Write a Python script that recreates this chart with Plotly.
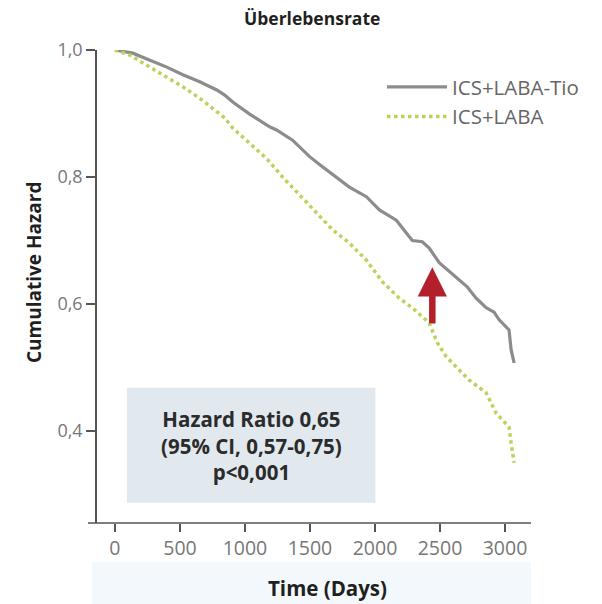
import plotly.graph_objects as go

# Data
days_tio = [0, 138, 269, 399, 522, 652, 783, 844, 906, 1036, 1190, 1243, 1366, 1497, 1596,
            1803, 1934, 2034, 2164, 2287, 2364, 2417, 2494, 2625, 2709, 2778, 2855, 2916,
            2955, 3031, 3047, 3070]
haz_tio = [1.0, 0.995, 0.984, 0.973, 0.961, 0.95, 0.937, 0.929, 0.918, 0.899, 0.879, 0.874,
           0.858, 0.832, 0.816, 0.784, 0.769, 0.748, 0.732, 0.70, 0.698, 0.688, 0.665, 0.641,
           0.627, 0.609, 0.594, 0.587, 0.575, 0.559, 0.528, 0.507]

days_laba = [0, 115, 269, 399, 522, 652, 783, 844, 906, 1036, 1167, 1289, 1420, 1550, 1673,
             1803, 1934, 2057, 2187, 2287, 2417, 2479, 2548, 2725, 2855, 2932, 3031, 3047, 3070]
haz_laba = [1.0, 0.992, 0.973, 0.957, 0.942, 0.924, 0.902, 0.893, 0.877, 0.853, 0.829, 0.80,
            0.772, 0.743, 0.717, 0.696, 0.669, 0.635, 0.609, 0.594, 0.57, 0.539, 0.517, 0.48,
            0.46, 0.428, 0.406, 0.381, 0.35]

x_ticks = [0, 500, 1000, 1500, 2000, 2500, 3000]
y_ticks = [0.4, 0.6, 0.8, 1.0]
y_tick_labels = ["0,4", "0,6", "0,8", "1,0"]

series_names = ["ICS+LABA-Tio", "ICS+LABA"]
box_lines = ["Hazard Ratio 0,65", "(95% CI, 0,57-0,75)", "p<0,001"]
box_x = [92, 2003]
box_y = [0.287, 0.468]
arrow_x = 2441
arrow_y = [0.567, 0.658]

fig = go.Figure()
fig.add_trace(go.Scatter(x=days_tio, y=haz_tio, mode="lines", name=series_names[0],
                         line=dict(color="#8c8c8c", width=3.2)))
fig.add_trace(go.Scatter(x=days_laba, y=haz_laba, mode="lines", name=series_names[1],
                         line=dict(color="#b8d45c", width=3.5, dash="dot")))

# stats box
fig.add_shape(type="rect", xref="x", yref="y", x0=box_x[0], x1=box_x[1], y0=box_y[0], y1=box_y[1],
              fillcolor="#e2e9ee", line=dict(width=0), layer="below")
fig.add_annotation(xref="x", yref="y", x=(box_x[0] + box_x[1]) / 2, y=(box_y[0] + box_y[1]) / 2,
                   xanchor="center", yanchor="middle",
                   text="<br>".join(box_lines), showarrow=False,
                   font=dict(family="Open Sans", size=20.5, color="#2b2b2b", weight="bold"),
                   align="center")

# bottom light band
fig.add_shape(type="rect", xref="paper", yref="paper", x0=-5 / 434, x1=1.0,
              y0=-(604 - 523) / 473, y1=-(562 - 523) / 473,
              fillcolor="#f3f8fc", line=dict(width=0), layer="below")

# x axis line extended past y axis
fig.add_shape(type="line", xref="paper", yref="paper", x0=-9 / 434, x1=1.0, y0=0, y1=0,
              line=dict(color="#555555", width=1.5))

# red arrow
fig.add_annotation(xref="x", yref="y", axref="x", ayref="y", x=arrow_x, y=arrow_y[1],
                   ax=arrow_x, ay=arrow_y[0], text="", showarrow=True, arrowhead=2,
                   arrowsize=0.9, arrowwidth=6.5, arrowcolor="#b3202c")

# titles
fig.add_annotation(xref="paper", yref="paper", x=(312 - 97) / 434, y=1 + (50 - 18) / 473,
                   xanchor="center", yanchor="middle",
                   text="Überlebensrate", showarrow=False,
                   font=dict(family="Open Sans", size=17.5, color="#1f1f1f", weight="bold"))
fig.add_annotation(xref="paper", yref="paper", x=(327 - 97) / 434, y=-(588 - 523) / 473,
                   xanchor="center", yanchor="middle",
                   text="Time (Days)", showarrow=False,
                   font=dict(family="Open Sans", size=20.5, color="#1f1f1f", weight="bold"))
fig.add_annotation(xref="paper", yref="paper", x=-(97 - 34) / 434, y=1 - (272 - 50) / 473,
                   xanchor="center", yanchor="middle",
                   text="Cumulative Hazard", showarrow=False, textangle=-90,
                   font=dict(family="Open Sans", size=19, color="#1f1f1f", weight="bold"))

fig.update_layout(
    width=602, height=604,
    margin=dict(l=97, r=71, t=50, b=81),
    paper_bgcolor="white", plot_bgcolor="white",
    showlegend=True,
    legend=dict(x=(382 - 97) / 434, y=1 - (67 - 50) / 473, xanchor="left", yanchor="top",
                font=dict(family="Open Sans", size=20.5, color="#666666"),
                bgcolor="rgba(0,0,0,0)", itemwidth=60, tracegroupgap=0),
    xaxis=dict(range=[-138, 3200], tickvals=x_ticks, showgrid=False, zeroline=False,
               showline=False, ticks="outside", ticklen=8, tickcolor="#555555", tickwidth=1.5,
               tickfont=dict(family="Open Sans", size=19.5, color="#777777")),
    yaxis=dict(range=[0.255, 1.0], tickvals=y_ticks, ticktext=y_tick_labels, showgrid=False,
               zeroline=False, showline=True, linecolor="#555555", linewidth=1.5,
               ticks="outside", ticklen=9, tickcolor="#555555", tickwidth=1.5,
               tickfont=dict(family="Open Sans", size=18, color="#777777")),
)

fig.write_html("out.html")
